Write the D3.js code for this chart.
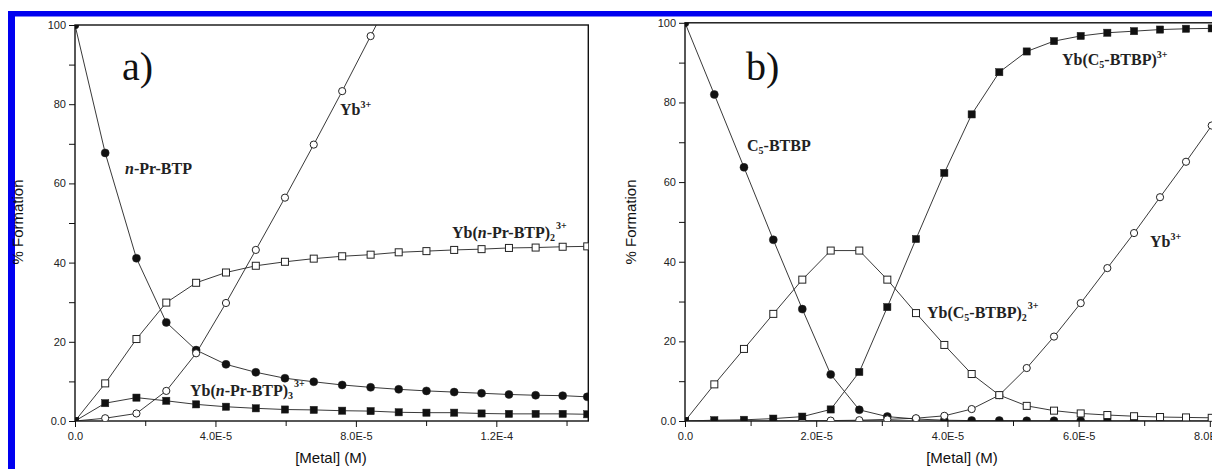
<!DOCTYPE html>
<html>
<head>
<meta charset="utf-8">
<script src="https://cdn.jsdelivr.net/npm/d3@7/dist/d3.min.js"></script>
<style>
  body { margin: 0; background: #fff; }
  svg { display: block; }
  .tick text { font-family: "Liberation Sans", Arial, sans-serif; font-size: 11px; fill: #222; }
  .tick line { stroke: #111; stroke-width: 1; }
</style>
</head>
<body>
<svg width="1212" height="469"></svg>
<script>
// ---- data, panel a (n-Pr-BTP) ----
var xA = [0, 8.6e-6, 1.75e-5, 2.6e-5, 3.45e-5, 4.3e-5, 5.15e-5, 5.98e-5, 6.8e-5, 7.61e-5,
          8.42e-5, 9.22e-5, 1.001e-4, 1.080e-4, 1.158e-4, 1.236e-4, 1.312e-4, 1.389e-4, 1.459e-4];
var nPrBTP   = [100, 67.7, 41.1, 24.9, 17.9, 14.3, 12.3, 10.8, 9.9, 9.1, 8.5, 8.0, 7.6, 7.3, 7.0, 6.7, 6.5, 6.4, 6.1];
var ybA      = [0, 0.7, 1.9, 7.6, 17.1, 29.8, 43.2, 56.4, 69.8, 83.3, 97.2, 111];
var ybNPr2   = [0, 9.5, 20.7, 29.9, 34.9, 37.5, 39.2, 40.2, 41.0, 41.6, 42.0, 42.6, 42.9, 43.2, 43.4, 43.7, 43.8, 44.0, 44.1];
var ybNPr3   = [0, 4.5, 5.9, 5.1, 4.2, 3.6, 3.2, 2.9, 2.8, 2.6, 2.5, 2.2, 2.1, 2.1, 1.9, 1.8, 1.8, 1.8, 1.7];
var xTicksA  = [0, 4e-5, 8e-5, 1.2e-4];
var xMinorA  = [2e-5, 6e-5, 1e-4, 1.4e-4];

// ---- data, panel b (C5-BTBP) ----
var xB = [0, 4.47e-6, 8.99e-6, 1.346e-5, 1.788e-5, 2.221e-5, 2.657e-5, 3.084e-5, 3.521e-5, 3.953e-5,
          4.370e-5, 4.791e-5, 5.209e-5, 5.625e-5, 6.032e-5, 6.438e-5, 6.845e-5, 7.241e-5, 7.637e-5, 8.029e-5];
var c5BTBP   = [100, 82.0, 63.7, 45.5, 28.1, 11.7, 2.8, 1.1, 0.5, 0.2, 0.1, 0.1, 0.05, 0.05, 0.05, 0, 0, 0, 0, 0];
var ybC5     = [0, 0.2, 0.3, 0.6, 1.1, 2.9, 12.3, 28.6, 45.7, 62.3, 77.0, 87.6, 92.8, 95.4, 96.7, 97.5, 97.9, 98.3, 98.5, 98.6];
var ybC5_2   = [0, 9.2, 18.1, 26.9, 35.5, 42.8, 42.8, 35.5, 27.1, 19.1, 11.8, 6.5, 3.8, 2.6, 1.9, 1.5, 1.2, 1.0, 0.9, 0.8];
var ybB      = [0, 0, 0, 0, 0.05, 0.1, 0.2, 0.4, 0.7, 1.3, 3.0, 6.5, 13.3, 21.2, 29.6, 38.4, 47.2, 56.2, 65.1, 74.2];
var xTicksB  = [0, 2e-5, 4e-5, 6e-5, 8e-5];
var xMinorB  = [1e-5, 3e-5, 5e-5, 7e-5];

var yTicks = [0, 20, 40, 60, 80, 100];
var yMinor = [10, 30, 50, 70, 90];

var serif = '"Liberation Serif", "Times New Roman", serif';
var sans = '"Liberation Sans", Arial, sans-serif';

var svg = d3.select('svg');

// blue frame round the figure
svg.append('rect').attr('x', 8).attr('y', 11).attr('width', 1204).attr('height', 5.5).attr('fill', '#0000f0');
svg.append('rect').attr('x', 8).attr('y', 11).attr('width', 7).attr('height', 458).attr('fill', '#0000f0');

function fmtX(d) { return d === 0 ? '0.0' : d.toExponential(1).toUpperCase(); }
function fmtY(d) { return d === 0 ? '0.0' : String(d); }

function drawPanel(p) {
  var x = d3.scaleLinear().domain(p.xDomain).range(p.xRange);
  var y = d3.scaleLinear().domain([0, 100]).range(p.yRange);
  var g = svg.append('g');

  // axes
  g.append('g').attr('transform', 'translate(' + p.xRange[0] + ',0)')
    .call(d3.axisLeft(y).tickValues(yTicks).tickFormat(fmtY).tickSize(6).tickPadding(3))
    .call(function(s){ s.select('.domain').remove(); });
  g.append('g').attr('transform', 'translate(' + p.xRange[0] + ',0)')
    .call(d3.axisLeft(y).tickValues(yMinor).tickFormat('').tickSize(6))
    .call(function(s){ s.select('.domain').remove(); });
  g.append('g').attr('transform', 'translate(0,' + p.yRange[0] + ')')
    .call(d3.axisBottom(x).tickValues(p.xTicks).tickFormat(fmtX).tickSize(6).tickPadding(5))
    .call(function(s){ s.select('.domain').remove(); });
  g.append('g').attr('transform', 'translate(0,' + p.yRange[0] + ')')
    .call(d3.axisBottom(x).tickValues(p.xMinor).tickFormat('').tickSize(5))
    .call(function(s){ s.select('.domain').remove(); });

  // frame
  g.append('rect')
    .attr('x', p.xRange[0]).attr('y', p.yRange[1])
    .attr('width', p.xRange[1] - p.xRange[0]).attr('height', p.yRange[0] - p.yRange[1])
    .attr('fill', 'none').attr('stroke', '#111').attr('stroke-width', 1.4);

  // axis titles
  g.append('text')
    .attr('transform', 'translate(' + p.yTitleX + ',222) rotate(-90)')
    .attr('text-anchor', 'middle').attr('font-family', sans).attr('font-size', 15).attr('fill', '#111')
    .text('% Formation');
  g.append('text')
    .attr('x', p.xTitleX).attr('y', 463).attr('text-anchor', 'middle')
    .attr('font-family', sans).attr('font-size', 15).attr('fill', '#111')
    .text('[Metal] (M)');

  // clip to the frame
  g.append('clipPath').attr('id', p.id)
    .append('rect').attr('x', p.xRange[0]).attr('y', p.yRange[1])
    .attr('width', p.xRange[1] - p.xRange[0]).attr('height', p.yRange[0] - p.yRange[1]);
  var plot = g.append('g').attr('clip-path', 'url(#' + p.id + ')');

  var line = d3.line().x(function(d){ return x(d[0]); }).y(function(d){ return y(d[1]); });

  p.series.forEach(function(s) {
    var pts = s.values.map(function(v, i){ return [p.xs[i], v]; });
    plot.append('path').attr('d', line(pts)).attr('fill', 'none')
      .attr('stroke', '#222').attr('stroke-width', 0.9);
  });
  p.series.forEach(function(s) {
    var pts = s.values.map(function(v, i){ return [p.xs[i], v]; });
    var filled = s.marker.indexOf('filled') === 0;
    if (s.marker.indexOf('circle') > 0) {
      plot.selectAll(null).data(pts).enter().append('circle')
        .attr('cx', function(d){ return x(d[0]); })
        .attr('cy', function(d){ return y(d[1]); })
        .attr('r', filled ? 4 : 3.6)
        .attr('fill', filled ? '#111' : '#fff')
        .attr('stroke', '#222').attr('stroke-width', filled ? 0.5 : 1);
    } else {
      var h = filled ? 3.6 : 3.5;
      plot.selectAll(null).data(pts).enter().append('rect')
        .attr('x', function(d){ return x(d[0]) - h; })
        .attr('y', function(d){ return y(d[1]) - h; })
        .attr('width', 2 * h).attr('height', 2 * h)
        .attr('fill', filled ? '#111' : '#fff')
        .attr('stroke', '#222').attr('stroke-width', filled ? 0.5 : 1);
    }
  });

  // panel letter
  g.append('text').attr('x', p.letterX).attr('y', 80)
    .attr('font-family', serif).attr('font-size', 40).attr('fill', '#111').text(p.letter);

  // curve labels
  p.labels.forEach(function(l) {
    var t = g.append('text').attr('x', l.x).attr('y', l.y)
      .attr('font-family', serif).attr('font-weight', 'bold').attr('font-size', 16).attr('fill', '#222');
    l.parts.forEach(function(pt) {
      var ts = t.append('tspan').text(pt.t);
      if (pt.i) ts.attr('font-style', 'italic');
      if (pt.dy) ts.attr('dy', pt.dy);
      if (pt.fs) ts.attr('font-size', pt.fs);
      if (pt.dx) ts.attr('dx', pt.dx);
    });
  });
}

drawPanel({
  id: 'clipA', letter: 'a)', letterX: 122,
  xDomain: [0, 1.462e-4], xRange: [75, 588.3], yRange: [421, 25],
  xTicks: xTicksA, xMinor: xMinorA, xs: xA,
  yTitleX: 23, xTitleX: 331,
  series: [
    { values: nPrBTP, marker: 'filled-circle' },
    { values: ybA,    marker: 'open-circle' },
    { values: ybNPr2, marker: 'open-square' },
    { values: ybNPr3, marker: 'filled-square' }
  ],
  labels: [
    { x: 340, y: 115, parts: [{t: 'Yb'}, {t: '3+', fs: 10, dy: -7}] },
    { x: 125, y: 174, parts: [{t: 'n', i: true}, {t: '-Pr-BTP'}] },
    { x: 452, y: 238, parts: [{t: 'Yb('}, {t: 'n', i: true}, {t: '-Pr-BTP)'}, {t: '2', fs: 10, dy: 3},
                             {t: '3+', fs: 10, dy: -12, dx: 1}] },
    { x: 190, y: 396, parts: [{t: 'Yb('}, {t: 'n', i: true}, {t: '-Pr-BTP)'}, {t: '3', fs: 10, dy: 3},
                             {t: '3+', fs: 10, dy: -12, dx: 1}] }
  ]
});

drawPanel({
  id: 'clipB', letter: 'b)', letterX: 746,
  xDomain: [0, 8.05e-5], xRange: [685, 1213.1], yRange: [421, 22.8],
  xTicks: xTicksB, xMinor: xMinorB, xs: xB,
  yTitleX: 636, xTitleX: 962,
  series: [
    { values: c5BTBP, marker: 'filled-circle' },
    { values: ybB,    marker: 'open-circle' },
    { values: ybC5_2, marker: 'open-square' },
    { values: ybC5,   marker: 'filled-square' }
  ],
  labels: [
    { x: 747, y: 151, parts: [{t: 'C'}, {t: '5', fs: 10, dy: 3}, {t: '-BTBP', dy: -3}] },
    { x: 1062, y: 65, parts: [{t: 'Yb(C'}, {t: '5', fs: 10, dy: 3}, {t: '-BTBP)', dy: -3},
                              {t: '3+', fs: 10, dy: -7}] },
    { x: 1150, y: 247, parts: [{t: 'Yb'}, {t: '3+', fs: 10, dy: -7}] },
    { x: 927, y: 318, parts: [{t: 'Yb(C'}, {t: '5', fs: 10, dy: 3}, {t: '-BTBP)', dy: -3}, {t: '2', fs: 10, dy: 3},
                             {t: '3+', fs: 10, dy: -12, dx: 1}] }
  ]
});
</script>
</body>
</html>
